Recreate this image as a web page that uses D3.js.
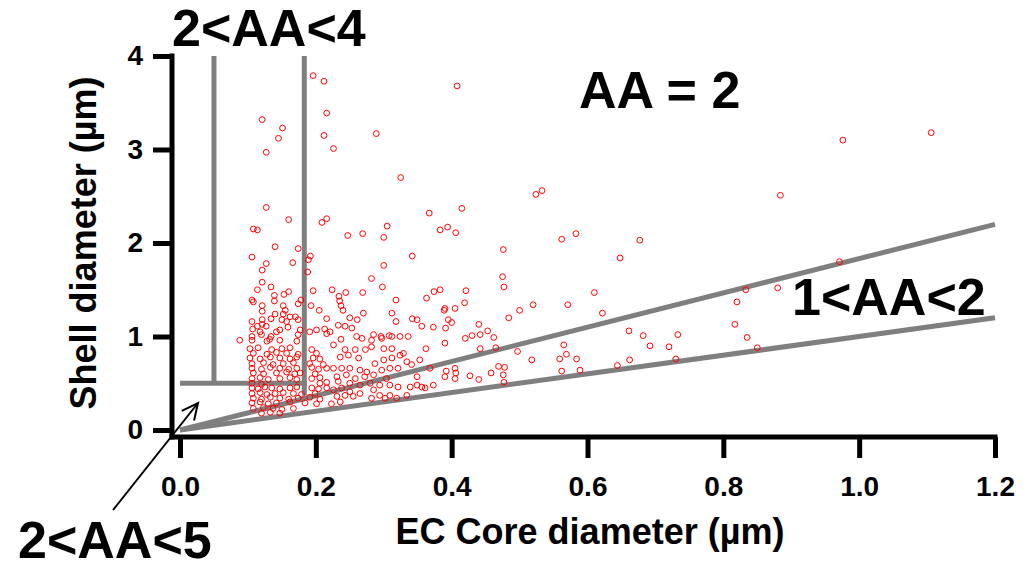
<!DOCTYPE html>
<html>
<head>
<meta charset="utf-8">
<script src="https://cdn.jsdelivr.net/npm/d3@7"></script>
<style>
  body { margin: 0; background: #fff; }
  text { font-family: Arial, "Liberation Sans", sans-serif; font-weight: bold; }
</style>
</head>
<body>
<div id="viz_container"></div>
<script>
// tick values for both axes
const coreTicks = [0, 0.2, 0.4, 0.6, 0.8, 1.0, 1.2];
const shellTicks = [0, 1, 2, 3, 4];

// [EC core diameter, shell diameter] in µm
const particles = [
  // sparse, upper part
  [0.196,3.79],[0.212,3.73],[0.121,3.32],[0.151,3.23],[0.145,3.12],[0.127,2.97],[0.216,3.39],[0.212,3.15],
  [0.226,3.01],[0.127,2.38],[0.160,2.25],[0.108,2.15],[0.114,2.14],[0.209,2.22],[0.216,2.26],[0.247,2.08],
  [0.408,3.68],[0.289,3.17],[0.325,2.70],[0.367,2.32],[0.415,2.37],[0.305,2.18],[0.383,2.14],[0.394,2.17],
  [0.406,2.11],[0.269,2.10],[0.300,2.06],[0.976,3.10],[1.106,3.18],[0.524,2.52],[0.533,2.56],[0.884,2.51],
  [0.476,1.93],[0.562,2.04],[0.583,2.10],[0.677,2.03],[0.648,1.84],
  // right part
  [0.475,1.64],[0.477,1.53],[0.610,1.47],[0.571,1.34],[0.520,1.34],[0.500,1.28],[0.484,1.20],[0.622,1.25],
  [0.880,1.52],[0.833,1.50],[0.820,1.37],[0.817,1.13],[0.835,0.99],[0.971,1.80],[0.462,0.99],[0.465,0.88],
  [0.497,0.84],[0.661,1.06],[0.682,1.01],[0.733,1.02],[0.692,0.90],[0.720,0.89],[0.565,0.91],[0.569,0.81],
  [0.559,0.76],[0.584,0.76],[0.518,0.75],[0.662,0.75],[0.730,0.76],[0.644,0.69],[0.562,0.63],[0.589,0.64],
  [0.469,0.68],[0.478,0.67],[0.458,0.61],[0.476,0.59],[0.477,0.51],[0.850,0.88],
  // middle
  [0.342,1.86],[0.300,1.76],[0.282,1.62],[0.298,1.53],[0.224,1.50],[0.244,1.47],[0.269,1.47],[0.383,1.50],
  [0.374,1.48],[0.421,1.49],[0.318,1.39],[0.363,1.41],[0.419,1.36],[0.235,1.38],[0.237,1.33],[0.240,1.28],
  [0.270,1.25],[0.312,1.25],[0.389,1.28],[0.390,1.30],[0.405,1.30],[0.250,1.20],[0.261,1.18],[0.318,1.16],
  [0.342,1.19],[0.349,1.18],[0.356,1.11],[0.373,1.10],[0.391,1.09],[0.395,1.18],[0.400,1.15],[0.440,1.13],
  [0.453,1.06],[0.234,1.43],[0.233,1.12],[0.243,1.11],[0.253,1.09],[0.221,1.05],[0.430,1.01],[0.442,1.02],
  [0.420,0.98],[0.285,1.02],[0.296,1.00],[0.308,1.01],[0.324,1.00],
  // dense cluster, upper half
  [0.140,1.96],[0.174,1.94],[0.106,1.85],[0.192,1.86],[0.189,1.82],[0.188,1.69],[0.166,1.79],[0.127,1.78],
  [0.121,1.71],[0.121,1.58],[0.114,1.50],[0.134,1.53],[0.196,1.49],[0.160,1.48],[0.153,1.45],[0.139,1.44],
  [0.139,1.38],[0.106,1.39],[0.108,1.37],[0.121,1.33],[0.121,1.27],[0.152,1.33],[0.155,1.28],[0.152,1.24],
  [0.174,1.35],[0.178,1.39],[0.193,1.33],[0.205,1.28],[0.216,1.19],[0.140,1.24],[0.134,1.19],[0.106,1.16],
  [0.107,1.08],[0.121,1.18],[0.121,1.13],[0.150,1.18],[0.157,1.16],[0.162,1.21],[0.170,1.21],[0.174,1.18],
  [0.114,1.11],[0.127,1.11],[0.118,1.05],[0.120,1.02],[0.134,1.00],[0.142,1.05],[0.147,1.07],[0.159,1.10],
  [0.177,1.07],[0.174,1.02],[0.191,1.05],[0.201,1.07],[0.213,1.08],[0.216,1.03],[0.106,1.00],[0.088,0.96],
  // dense cluster, lower half
  [0.106,0.96],[0.128,0.95],[0.132,0.97],[0.147,0.96],[0.172,0.95],
  [0.103,0.87],[0.115,0.88],[0.135,0.86],[0.150,0.87],[0.162,0.88],[0.194,0.86],
  [0.108,0.82],[0.128,0.81],[0.142,0.83],[0.157,0.82],[0.174,0.81],[0.201,0.82],
  [0.103,0.77],[0.118,0.76],[0.133,0.78],[0.147,0.77],[0.162,0.76],[0.172,0.78],[0.196,0.77],[0.206,0.76],
  [0.106,0.71],[0.123,0.72],[0.137,0.70],[0.152,0.71],[0.167,0.72],[0.191,0.71],[0.211,0.70],
  [0.106,0.66],[0.120,0.65],[0.133,0.67],[0.147,0.66],[0.160,0.65],[0.172,0.66],[0.194,0.67],[0.204,0.65],[0.216,0.66],
  [0.108,0.61],[0.123,0.60],[0.142,0.61],[0.157,0.62],[0.169,0.60],[0.177,0.61],[0.199,0.60],
  [0.106,0.55],[0.118,0.56],[0.130,0.54],[0.147,0.55],[0.162,0.56],[0.172,0.54],[0.194,0.55],[0.206,0.56],
  [0.106,0.50],[0.120,0.49],[0.206,0.50],[0.216,0.51],
  [0.106,0.45],[0.115,0.44],[0.125,0.46],[0.135,0.45],[0.147,0.44],[0.162,0.45],[0.172,0.46],[0.194,0.45],[0.204,0.44],[0.216,0.45],
  [0.106,0.39],[0.118,0.40],[0.128,0.38],[0.140,0.39],[0.152,0.40],[0.167,0.39],[0.179,0.38],[0.199,0.39],
  [0.108,0.34],[0.120,0.33],[0.133,0.35],[0.147,0.34],[0.160,0.33],[0.174,0.34],[0.191,0.35],[0.206,0.33],
  [0.106,0.29],[0.118,0.30],[0.130,0.28],[0.142,0.29],[0.162,0.30],[0.184,0.29],[0.201,0.28],
  [0.108,0.23],[0.123,0.24],[0.137,0.23],[0.150,0.22],[0.167,0.23],
  [0.120,0.18],[0.133,0.19],[0.147,0.18],
  // cluster to the right of 0.22
  [0.237,0.97],[0.260,1.00],[0.268,0.98],[0.282,0.96],[0.297,0.98],[0.312,1.00],[0.336,1.00],
  [0.226,0.91],[0.243,0.86],[0.258,0.86],[0.273,0.86],[0.282,0.89],[0.300,0.87],[0.312,0.87],[0.329,0.82],
  [0.362,0.87],[0.390,0.93],[0.442,0.87],
  [0.236,0.78],[0.248,0.80],[0.263,0.77],[0.287,0.71],[0.300,0.75],[0.312,0.77],[0.324,0.80],[0.334,0.73],
  [0.341,0.70],[0.353,0.75],
  [0.226,0.66],[0.238,0.66],[0.250,0.66],[0.265,0.64],[0.275,0.62],[0.297,0.64],[0.309,0.66],[0.321,0.66],
  [0.368,0.66],[0.405,0.66],[0.392,0.63],[0.406,0.61],
  [0.231,0.57],[0.245,0.59],[0.258,0.55],[0.272,0.57],[0.285,0.59],[0.304,0.55],[0.349,0.57],
  [0.233,0.52],[0.250,0.50],[0.265,0.48],[0.280,0.50],[0.294,0.48],[0.309,0.48],[0.321,0.46],
  [0.226,0.43],[0.238,0.45],[0.250,0.41],[0.285,0.43],
  [0.231,0.36],[0.243,0.37],[0.255,0.36],[0.265,0.39],[0.282,0.34],[0.294,0.37],[0.302,0.34],[0.309,0.37],
  [0.319,0.34],[0.334,0.37],[0.339,0.46],[0.349,0.48],[0.356,0.46],[0.361,0.45],[0.373,0.48],[0.390,0.57],
  [0.405,0.55],[0.427,0.58],[0.440,0.54],[0.223,0.28],[0.236,0.30]
];

// grey guide lines, [[x1,y1],[x2,y2]] in data units
const guides = [
  [[0, 0], [1.2, 1.2]],
  [[0, 0], [1.2, 2.2]],
  [[0.05, 4], [0.05, 0.5]],
  [[0.183, 4], [0.183, 0.37]],
  [[0, 0.5], [0.187, 0.5]]
];

const width = 1034, height = 570;
const svg = d3.select("#viz_container")
  .append("svg")
  .attr("width", width)
  .attr("height", height);

const x = d3.scaleLinear().domain([0, 1.2]).range([180, 995]);
const y = d3.scaleLinear().domain([0, 4]).range([430, 56]);

// offset axes, prism style
const xAxisY = 437, yAxisX = 172;

// guide lines
svg.append("g")
  .selectAll("line")
  .data(guides)
  .join("line")
  .attr("x1", d => x(d[0][0]))
  .attr("y1", d => y(d[0][1]))
  .attr("x2", d => x(d[1][0]))
  .attr("y2", d => y(d[1][1]))
  .attr("stroke", "#7f7f7f")
  .attr("stroke-width", 5);

// points
svg.append("g")
  .selectAll("circle")
  .data(particles)
  .join("circle")
  .attr("cx", d => x(d[0]))
  .attr("cy", d => y(d[1]))
  .attr("r", 2.9)
  .attr("fill", "none")
  .attr("stroke", "#ff0000")
  .attr("stroke-width", 1);

// x axis
const gx = svg.append("g")
  .attr("transform", `translate(0,${xAxisY})`)
  .call(d3.axisBottom(x).tickValues(coreTicks).tickFormat(d3.format(".1f"))
    .tickSize(21).tickPadding(18));
gx.select(".domain").remove();
gx.selectAll(".tick line").attr("stroke", "#000").attr("stroke-width", 5);
gx.selectAll(".tick text").style("font-size", "28px").attr("fill", "#000");
svg.append("line")
  .attr("x1", yAxisX - 2.5).attr("x2", x(1.2) + 2.5)
  .attr("y1", xAxisY).attr("y2", xAxisY)
  .attr("stroke", "#000").attr("stroke-width", 5);

// y axis
const gy = svg.append("g")
  .attr("transform", `translate(${yAxisX},0)`)
  .call(d3.axisLeft(y).tickValues(shellTicks).tickFormat(d3.format("d"))
    .tickSize(19).tickPadding(10));
gy.select(".domain").remove();
gy.selectAll(".tick line").attr("stroke", "#000").attr("stroke-width", 5);
gy.selectAll(".tick text").style("font-size", "28px").attr("fill", "#000");
svg.append("line")
  .attr("x1", yAxisX).attr("x2", yAxisX)
  .attr("y1", y(4) - 2.5).attr("y2", xAxisY + 2.5)
  .attr("stroke", "#000").attr("stroke-width", 5);

// axis titles
svg.append("text")
  .attr("x", 590).attr("y", 544)
  .attr("text-anchor", "middle")
  .style("font-size", "36px")
  .text("EC Core diameter (\u00b5m)");
svg.append("text")
  .attr("transform", "translate(96,243) rotate(-90)")
  .attr("text-anchor", "middle")
  .style("font-size", "36px")
  .text("Shell diameter (\u00b5m)");

// annotations
const notes = [
  {t: "2<AA<4", x: 172, y: 46},
  {t: "AA = 2", x: 579, y: 108},
  {t: "1<AA<2", x: 792, y: 315},
  {t: "2<AA<5", x: 18, y: 558}
];
svg.selectAll(".note")
  .data(notes)
  .join("text")
  .attr("class", "note")
  .attr("x", d => d.x).attr("y", d => d.y)
  .style("font-size", "52px")
  .text(d => d.t);

// arrow pointing at origin region
const a0 = [113, 510], a1 = [198, 403];
const ang = Math.atan2(a1[1] - a0[1], a1[0] - a0[0]);
const head = 18, spread = 0.45;
svg.append("line")
  .attr("x1", a0[0]).attr("y1", a0[1]).attr("x2", a1[0]).attr("y2", a1[1])
  .attr("stroke", "#000").attr("stroke-width", 2);
svg.append("path")
  .attr("d", d3.line()([
    [a1[0] - head * Math.cos(ang - spread), a1[1] - head * Math.sin(ang - spread)],
    a1,
    [a1[0] - head * Math.cos(ang + spread), a1[1] - head * Math.sin(ang + spread)]
  ]))
  .attr("fill", "none").attr("stroke", "#000").attr("stroke-width", 2);
</script>
</body>
</html>
